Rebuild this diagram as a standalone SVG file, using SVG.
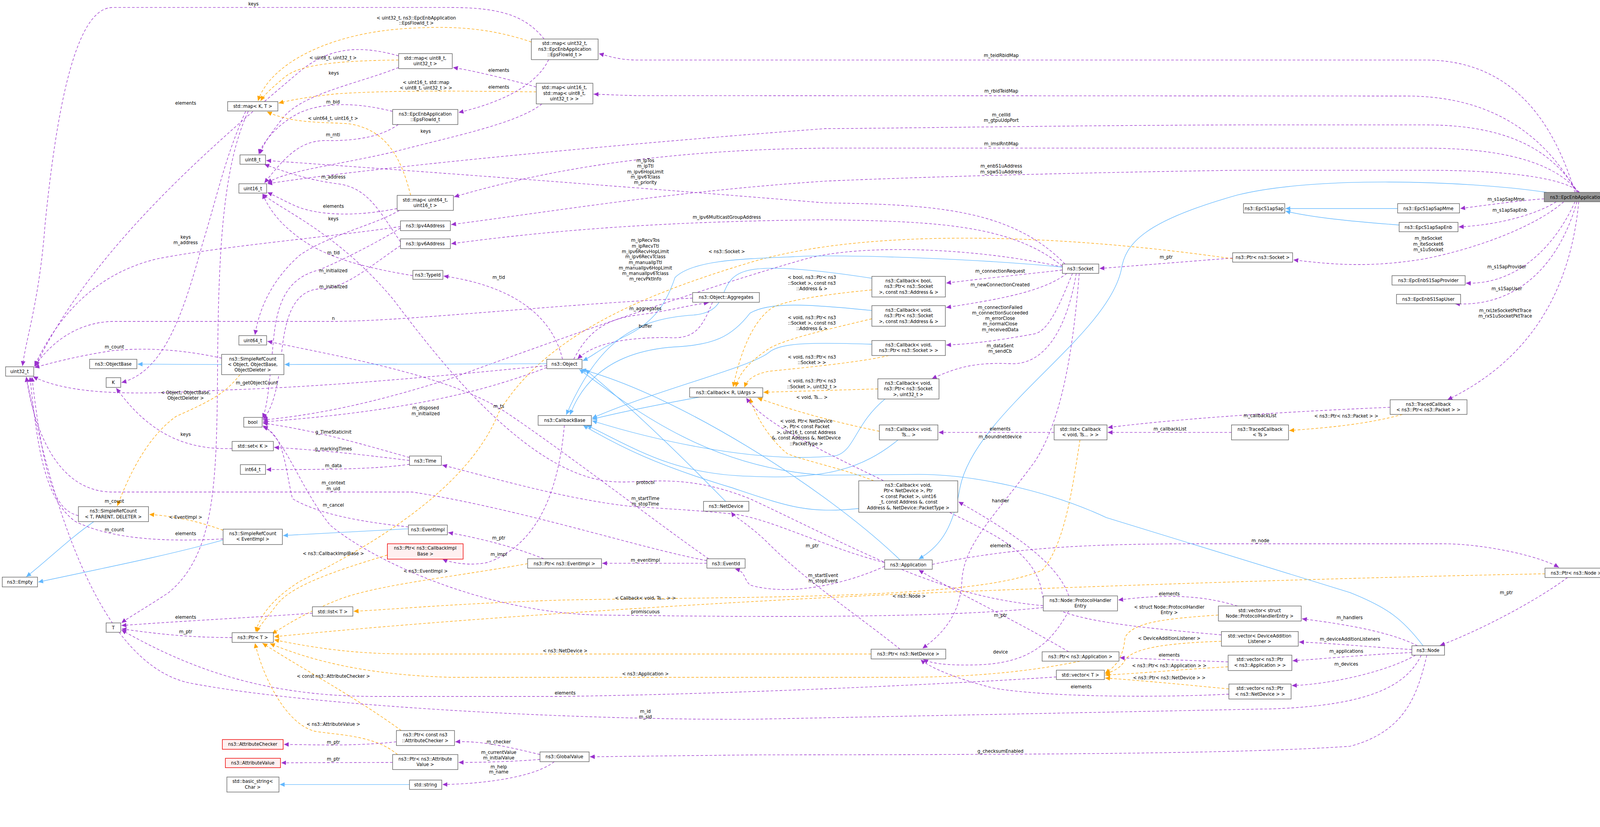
<svg xmlns="http://www.w3.org/2000/svg" width="4296" height="2117" viewBox="0 0 4296 2117">
<style>
text{font-family:"DejaVu Sans","Noto Sans",sans-serif;font-size:12px;fill:#000;text-anchor:middle}
.n rect{fill:#fff;stroke:#666;stroke-width:1.5}
.r rect{fill:#fff0f0;stroke:#e00;stroke-width:1.5}
.h rect{fill:#999;stroke:#666;stroke-width:1.5}
#edges path{fill:none;stroke-width:1.4}
.p{stroke:#9a32cd;stroke-dasharray:7,5;marker-end:url(#mp)}
.o{stroke:#ffa500;stroke-dasharray:7,5;marker-end:url(#mo)}
.b{stroke:#63b8ff;marker-end:url(#mb)}
</style>
<defs>
<marker id="mp" markerUnits="userSpaceOnUse" markerWidth="14" markerHeight="12" refX="13" refY="6" orient="auto"><path d="M0,0 L13,6 L0,12 z" fill="#9a32cd"/></marker>
<marker id="mo" markerUnits="userSpaceOnUse" markerWidth="14" markerHeight="12" refX="13" refY="6" orient="auto"><path d="M0,0 L13,6 L0,12 z" fill="#ffa500"/></marker>
<marker id="mb" markerUnits="userSpaceOnUse" markerWidth="14" markerHeight="12" refX="13" refY="6" orient="auto"><path d="M0,0 L13,6 L0,12 z" fill="#63b8ff"/></marker>
</defs>
<rect width="4296" height="2117" fill="#fff"/>
<g transform="scale(0.96)">
<g id="edges">
<path class="p" d="M1451,104 C1400,40 1330,20 1200,20 L300,20 C200,20 150,300 120,600 C105,800 70,900 60,976"/>
<path class="o" d="M1417,112 C1300,72 1200,70 1100,75 C880,85 720,170 688,269"/>
<path class="p" d="M1063,149 C960,120 880,125 800,190 C600,360 250,650 95,976"/>
<path class="p" d="M1063,180 C950,225 800,250 750,320 C715,365 700,390 693,411"/>
<path class="o" d="M1063,160 C900,162 800,172 760,205 C730,230 705,252 695,269"/>
<path class="o" d="M1430,245 C1250,243 1050,240 900,250 C820,258 770,268 743,275"/>
<path class="p" d="M1430,232 C1350,210 1270,190 1208,180"/>
<path class="p" d="M1463,159 C1430,230 1330,275 1223,300"/>
<path class="p" d="M1445,277 C1380,330 1200,365 1050,405 C900,440 760,455 713,488"/>
<path class="p" d="M1047,297 C960,275 870,270 800,300 C740,330 700,380 690,411"/>
<path class="p" d="M1062,332 C1010,370 930,375 880,375 C800,370 760,420 705,488"/>
<path class="o" d="M1095,521 C1070,420 1030,345 930,330 C860,325 780,330 712,298"/>
<path class="p" d="M1059,556 C950,578 850,575 790,550 C760,537 740,525 713,513"/>
<path class="p" d="M1065,561 C1000,600 880,625 800,680 C720,750 690,830 680,893"/>
<path class="p" d="M1068,604 C900,630 600,655 420,690 C250,730 150,850 92,976"/>
<path class="p" d="M655,297 C600,420 580,520 540,650 C490,830 440,990 324,1020"/>
<path class="p" d="M662,297 C590,450 582,700 580,1000 C578,1300 570,1480 450,1580 C390,1620 345,1645 324,1661"/>
<path class="p" d="M4200,513 C4150,350 4050,160 3800,160 L1700,160 C1650,160 1625,150 1597,143"/>
<path class="p" d="M4205,513 C4130,380 4000,256 3750,256 L1700,255 C1650,254 1615,252 1583,251"/>
<path class="p" d="M4208,513 C4150,420 4050,333 3800,333 L3300,333 C2800,335 2400,342 2200,343 C1700,380 1000,445 713,490"/>
<path class="p" d="M4210,513 C4160,450 4050,395 3800,395 L2200,395 C1700,400 1400,470 1211,525"/>
<path class="p" d="M4212,513 C4180,480 4050,454 3800,454 L3300,454 C2900,460 2500,470 2200,483 C1800,510 1500,560 1203,599"/>
<path class="p" d="M4118,530 C4050,535 3980,545 3894,556"/>
<path class="p" d="M4150,538 C4100,570 4000,600 3890,605"/>
<path class="p" d="M4170,538 C4100,600 3950,660 3800,690 C3650,715 3550,705 3449,693"/>
<path class="p" d="M4200,538 C4150,650 4050,760 3909,755"/>
<path class="p" d="M4205,538 C4160,700 4050,820 3880,810"/>
<path class="p" d="M4210,538 C4190,750 4100,950 3860,1066"/>
<path class="b" d="M4125,513 C3900,480 3500,470 3300,520 C3050,590 3000,650 2990,720 C2950,900 2600,1100 2560,1300 C2540,1420 2500,1460 2450,1491"/>
<path class="b" d="M3727,556 L3428,556"/>
<path class="b" d="M3731,600 C3600,590 3500,580 3428,563"/>
<path class="p" d="M3287,688 L2932,716"/>
<path class="o" d="M3287,690 C2800,620 2300,610 2000,700 C1700,790 1450,900 1330,1100 C1250,1300 1000,1450 800,1550 C720,1600 690,1650 682,1685"/>
<path class="p" d="M2833,710 C2700,600 2500,590 2200,586 C1800,590 1500,610 1203,650"/>
<path class="p" d="M2840,704 C2700,560 2500,545 2200,541 C1700,500 1100,455 710,428"/>
<path class="p" d="M2833,712 C2600,660 2300,650 2150,690 C1900,760 1500,900 1200,1010 C950,1090 800,1110 701,1120"/>
<path class="b" d="M2833,712 C2600,690 2300,680 2150,683 C2000,690 1850,690 1800,740 C1780,800 1750,860 1660,900 C1600,930 1580,950 1554,962"/>
<path class="p" d="M2833,720 C2700,735 2600,745 2523,755"/>
<path class="p" d="M2845,729 C2780,780 2650,800 2523,820"/>
<path class="p" d="M2860,729 C2830,800 2800,880 2760,890 C2650,910 2580,918 2523,920"/>
<path class="p" d="M2870,729 C2850,850 2800,970 2700,970 C2600,965 2550,980 2485,1010"/>
<path class="p" d="M2878,729 C2860,950 2830,1120 2760,1230 C2650,1380 2570,1450 2565,1550 C2560,1650 2500,1700 2460,1729"/>
<path class="b" d="M2325,742 C2150,715 2050,710 2000,720 C1900,740 1960,830 1850,840 C1700,850 1600,900 1510,1106"/>
<path class="b" d="M2325,828 C2150,810 2050,805 2000,835 C1950,900 1900,920 1800,925 C1650,935 1560,1000 1520,1106"/>
<path class="b" d="M2325,918 C2150,912 2080,915 2050,940 C2000,980 1750,1040 1579,1115"/>
<path class="b" d="M2360,1064 C2280,1130 2280,1200 2230,1215 C2000,1240 1700,1160 1579,1122"/>
<path class="b" d="M2395,1173 C2300,1250 2200,1280 2000,1270 C1800,1265 1700,1200 1565,1134"/>
<path class="b" d="M2290,1356 C2150,1370 2100,1350 1950,1300 C1750,1240 1650,1190 1555,1134"/>
<path class="b" d="M1865,1059 C1750,1080 1650,1100 1579,1118"/>
<path class="o" d="M2325,773 C2200,785 2100,800 2060,820 C2000,860 1970,960 1955,1032"/>
<path class="o" d="M2325,850 C2200,880 2090,905 2050,930 C1990,970 1970,1000 1962,1032"/>
<path class="o" d="M2370,948 C2300,965 2150,980 2050,990 C2000,1000 1990,1020 1985,1033"/>
<path class="o" d="M2341,1037 L2036,1046"/>
<path class="o" d="M2345,1150 C2200,1120 2100,1090 2020,1061"/>
<path class="o" d="M2330,1282 C2250,1250 2150,1230 2100,1210 C2050,1170 2010,1100 2000,1061"/>
<path class="p" d="M2811,1153 L2503,1153"/>
<path class="p" d="M3284,1153 L2954,1153"/>
<path class="p" d="M3707,1086 C3500,1095 3200,1110 2954,1140"/>
<path class="o" d="M3740,1105 C3650,1130 3550,1140 3438,1148"/>
<path class="o" d="M2880,1173 C2860,1300 2840,1450 2780,1520 C2600,1600 2000,1590 1500,1600 C1200,1610 1050,1625 943,1630"/>
<path class="p" d="M2850,1589 C2820,1500 2700,1420 2556,1338"/>
<path class="p" d="M2850,1629 C2800,1720 2740,1770 2600,1773 C2520,1775 2480,1768 2462,1758"/>
<path class="p" d="M2782,1620 C2500,1650 2000,1645 1600,1640 C1300,1635 1000,1500 880,1400 C800,1300 760,1170 701,1135"/>
<path class="p" d="M2782,1615 C2500,1590 2300,1470 2000,1330 C1800,1250 1700,1300 1600,1280 C1400,1240 1200,1000 1050,800 C900,620 750,560 700,517"/>
<path class="p" d="M2359,1510 C2250,1560 2100,1590 2000,1560 C1980,1540 1990,1525 1960,1517"/>
<path class="p" d="M2359,1500 C2200,1460 2050,1380 1950,1370 C1850,1360 1750,1355 1680,1350 C1500,1330 1300,1270 1179,1240"/>
<path class="p" d="M2486,1505 C2700,1460 2900,1450 3200,1450 L3850,1450 C3950,1450 4100,1480 4157,1513"/>
<path class="p" d="M4180,1540 C4100,1600 3950,1680 3840,1721"/>
<path class="p" d="M2850,1738 C2700,1650 2550,1580 2450,1520"/>
<path class="p" d="M2400,1731 C2300,1650 2150,1550 2050,1450 C2000,1400 1960,1380 1950,1365"/>
<path class="o" d="M4120,1530 C3600,1540 3000,1560 2500,1580 C2000,1600 1200,1650 731,1698"/>
<path class="o" d="M2323,1744 L1100,1744 C950,1744 850,1730 731,1706"/>
<path class="o" d="M2880,1763 C2750,1790 2600,1806 2400,1806 L1200,1806 C1000,1800 850,1770 720,1716"/>
<path class="o" d="M1070,1948 C950,1860 800,1780 700,1715"/>
<path class="o" d="M1060,2012 C1000,1960 900,1960 840,1950 C760,1930 700,1800 680,1715"/>
<path class="o" d="M1407,1503 C1200,1540 1000,1560 900,1600 C800,1640 760,1670 725,1690"/>
<path class="o" d="M1033,1480 C900,1520 780,1560 740,1610 C710,1650 690,1670 685,1686"/>
<path class="p" d="M3780,1722 C3700,1680 3550,1660 3472,1650"/>
<path class="p" d="M3765,1732 C3650,1725 3550,1715 3464,1712"/>
<path class="p" d="M3765,1740 C3650,1745 3550,1755 3447,1762"/>
<path class="p" d="M3775,1747 C3700,1790 3550,1825 3445,1828"/>
<path class="p" d="M3790,1747 C3750,1830 3650,1880 3400,1890 L2000,1918 C1500,1920 800,1880 500,1820 C250,1760 130,1300 70,1005"/>
<path class="p" d="M3805,1747 C3780,1850 3750,1950 3600,1990 C3300,2010 2800,2012 2000,2013 L1573,2018"/>
<path class="b" d="M3795,1722 C3740,1650 3700,1620 3600,1580 L2950,1380 C2800,1310 2600,1265 2450,1265 L2200,1267 C1900,1250 1700,1100 1545,985"/>
<path class="p" d="M3300,1616 C3200,1585 3100,1585 2982,1600"/>
<path class="o" d="M3249,1640 C3100,1650 3020,1660 3000,1700 C2995,1760 2970,1780 2947,1795"/>
<path class="p" d="M3257,1693 C3000,1670 2800,1650 2780,1590 C2770,1500 2700,1450 2600,1400 C2300,1250 2050,1150 1990,1061"/>
<path class="o" d="M3257,1710 C3100,1715 3020,1730 3000,1760 C2990,1780 2970,1790 2947,1797"/>
<path class="p" d="M3275,1765 L2986,1754"/>
<path class="o" d="M3275,1778 C3150,1785 3050,1795 2947,1800"/>
<path class="p" d="M3277,1851 C3100,1860 2800,1860 2650,1835 C2550,1810 2480,1780 2455,1759"/>
<path class="o" d="M3277,1837 C3150,1825 3050,1815 2947,1808"/>
<path class="p" d="M2817,1805 C2600,1820 2000,1850 1500,1857 L1000,1857 C700,1857 500,1780 324,1680"/>
<path class="p" d="M833,1635 C700,1645 500,1655 324,1668"/>
<path class="p" d="M619,1700 C500,1700 420,1690 324,1677"/>
<path class="p" d="M1440,2012 C1350,1990 1280,1975 1214,1978"/>
<path class="p" d="M1440,2025 C1380,2030 1300,2033 1223,2033"/>
<path class="p" d="M1478,2031 C1430,2070 1300,2090 1180,2092"/>
<path class="p" d="M1057,1978 C950,1990 850,1986 757,1985"/>
<path class="p" d="M1047,2033 L750,2034"/>
<path class="b" d="M1092,2092 L746,2092"/>
<path class="b" d="M595,1440 C450,1480 300,1510 102,1552"/>
<path class="b" d="M250,1391 C180,1440 120,1500 70,1538"/>
<path class="o" d="M595,1414 C530,1390 460,1375 398,1372"/>
<path class="b" d="M1089,1410 L755,1428"/>
<path class="p" d="M1089,1405 C950,1390 850,1370 780,1330 C760,1250 760,1160 701,1138"/>
<path class="p" d="M1450,1490 C1350,1450 1250,1430 1195,1420"/>
<path class="p" d="M1885,1502 L1606,1502"/>
<path class="p" d="M1885,1495 C1700,1460 1400,1360 1100,1312 L300,1312 C180,1312 100,1200 70,1005"/>
<path class="p" d="M1890,1490 C1800,1430 1500,1200 1350,1100 C1200,1000 900,950 713,910"/>
<path class="p" d="M1505,1134 C1490,1300 1440,1450 1300,1500 C1250,1510 1200,1500 1180,1491"/>
<path class="p" d="M1092,1220 C950,1180 850,1150 701,1128"/>
<path class="p" d="M1092,1228 C950,1210 850,1200 731,1193"/>
<path class="p" d="M1092,1238 C1000,1252 850,1252 710,1252"/>
<path class="p" d="M619,1196 C500,1200 400,1160 310,1035"/>
<path class="p" d="M1500,958 C1470,830 1350,760 1183,736"/>
<path class="p" d="M1530,958 C1570,880 1620,850 1700,840 C1780,830 1830,815 1890,807"/>
<path class="p" d="M1900,806 C1870,880 1850,905 1780,900 C1650,900 1580,920 1540,957"/>
<path class="p" d="M1847,795 C1500,810 1100,855 900,857 L300,857 C200,860 130,920 92,978"/>
<path class="p" d="M1458,980 C1300,1040 1100,1095 701,1125"/>
<path class="p" d="M1458,975 C1200,1000 900,1030 600,1040 C400,1050 200,1060 88,1004"/>
<path class="b" d="M1458,970 L759,972"/>
<path class="b" d="M591,972 L367,971"/>
<path class="p" d="M591,955 C500,935 400,925 300,935 C200,950 130,970 92,980"/>
<path class="o" d="M640,999 C600,1050 560,1070 470,1110 C400,1160 350,1250 313,1349"/>
<path class="p" d="M209,1375 C150,1360 120,1300 85,1005"/>
<path class="p" d="M595,1437 C450,1445 300,1440 200,1390 C120,1330 100,1200 80,1005"/>
<path class="p" d="M1101,735 C950,710 850,680 780,620 C730,580 710,540 700,517"/>
<path class="p" d="M1068,608 C1000,650 900,700 850,720 C770,740 740,800 730,900 C720,1000 715,1080 700,1115"/>
<path class="p" d="M1068,655 C1000,700 920,770 860,770 C780,770 760,850 750,950 C740,1050 720,1100 701,1118"/>
<path class="p" d="M1068,645 C1010,560 980,500 900,490 C820,480 750,455 705,438"/>
<path class="b" d="M1935,1337 C1850,1250 1700,1100 1560,985"/>
<path class="b" d="M2400,1493 C2200,1300 1800,1050 1550,985"/>
</g>
<g id="labels">
<text x="676" y="15">keys</text>
<text x="1110" y="52">&lt; uint32_t, ns3::EpcEnbApplication</text><text x="1110" y="66">::EpsFlowId_t &gt;</text>
<text x="495" y="279">elements</text>
<text x="890" y="199">keys</text>
<text x="888" y="158">&lt; uint8_t, uint32_t &gt;</text>
<text x="1136" y="224">&lt; uint16_t, std::map</text><text x="1136" y="239">&lt; uint8_t, uint32_t &gt; &gt;</text>
<text x="1330" y="192">elements</text>
<text x="1330" y="236">elements</text>
<text x="1135" y="354">keys</text>
<text x="888" y="276">m_bid</text>
<text x="888" y="364">m_rnti</text>
<text x="888" y="320">&lt; uint64_t, uint16_t &gt;</text>
<text x="889" y="554">elements</text>
<text x="889" y="587">keys</text>
<text x="495" y="651">m_address</text>
<text x="495" y="636">keys</text>
<text x="889" y="476">m_address</text>
<text x="889" y="678">m_tid</text>
<text x="889" y="726">m_initialized</text>
<text x="889" y="769">m_initialized</text>
<text x="2670" y="152">m_teidRbidMap</text>
<text x="2670" y="247">m_rbidTeidMap</text>
<text x="2670" y="310">m_cellId</text><text x="2670" y="325">m_gtpuUdpPort</text>
<text x="2670" y="387">m_imsiRntiMap</text>
<text x="2670" y="447">m_enbS1uAddress</text><text x="2670" y="462">m_sgwS1uAddress</text>
<text x="4016" y="535">m_s1apSapMme</text>
<text x="4026" y="565">m_s1apSapEnb</text>
<text x="3809" y="640">m_lteSocket</text><text x="3809" y="655">m_lteSocket6</text><text x="3809" y="670">m_s1uSocket</text>
<text x="4018" y="716">m_s1SapProvider</text>
<text x="4018" y="774">m_s1SapUser</text>
<text x="4014" y="832">m_rxLteSocketPktTrace</text><text x="4014" y="847">m_rxS1uSocketPktTrace</text>
<text x="3110" y="690">m_ptr</text>
<text x="1938" y="675">&lt; ns3::Socket &gt;</text>
<text x="1938" y="583">m_ipv6MulticastGroupAddress</text>
<text x="1721" y="432">m_ipTos</text><text x="1721" y="447">m_ipTtl</text><text x="1721" y="462">m_ipv6HopLimit</text><text x="1721" y="476">m_ipv6Tclass</text><text x="1721" y="491">m_priority</text>
<text x="1721" y="645">m_ipRecvTos</text><text x="1721" y="660">m_ipRecvTtl</text><text x="1721" y="675">m_ipv6RecvHopLimit</text><text x="1721" y="689">m_ipv6RecvTclass</text><text x="1721" y="704">m_manualIpTtl</text><text x="1721" y="719">m_manualIpv6HopLimit</text><text x="1721" y="733">m_manualIpv6Tclass</text><text x="1721" y="748">m_recvPktInfo</text>
<text x="2667" y="727">m_connectionRequest</text>
<text x="2667" y="764">m_newConnectionCreated</text>
<text x="2667" y="824">m_connectionFailed</text><text x="2667" y="839">m_connectionSucceeded</text><text x="2667" y="853">m_errorClose</text><text x="2667" y="868">m_normalClose</text><text x="2667" y="883">m_receivedData</text>
<text x="2667" y="926">m_dataSent</text><text x="2667" y="941">m_sendCb</text>
<text x="2667" y="1169">m_boundnetdevice</text>
<text x="2165" y="744">&lt; bool, ns3::Ptr&lt; ns3</text><text x="2165" y="759">::Socket &gt;, const ns3</text><text x="2165" y="774">::Address &amp; &gt;</text>
<text x="2165" y="851">&lt; void, ns3::Ptr&lt; ns3</text><text x="2165" y="866">::Socket &gt;, const ns3</text><text x="2165" y="880">::Address &amp; &gt;</text>
<text x="2165" y="956">&lt; void, ns3::Ptr&lt; ns3</text><text x="2165" y="971">::Socket &gt; &gt;</text>
<text x="2165" y="1020">&lt; void, ns3::Ptr&lt; ns3</text><text x="2165" y="1035">::Socket &gt;, uint32_t &gt;</text>
<text x="2165" y="1064">&lt; void, Ts... &gt;</text>
<text x="2150" y="1127">&lt; void, Ptr&lt; NetDevice</text><text x="2150" y="1142">&gt;, Ptr&lt; const Packet</text><text x="2150" y="1157">&gt;, uint16_t, const Address</text><text x="2150" y="1172">&amp;, const Address &amp;, NetDevice</text><text x="2150" y="1187">::PacketType &gt;</text>
<text x="2667" y="1148">elements</text>
<text x="3120" y="1148">m_callbackList</text>
<text x="3360" y="1112">m_callbackList</text>
<text x="3590" y="1114">&lt; ns3::Ptr&lt; ns3::Packet &gt; &gt;</text>
<text x="1721" y="1599">&lt; Callback&lt; void, Ts... &gt; &gt;</text>
<text x="2668" y="1340">handler</text>
<text x="2668" y="1743">device</text>
<text x="1721" y="1635">promiscuous</text>
<text x="1721" y="1291">protocol</text>
<text x="2195" y="1539">m_startEvent</text><text x="2195" y="1553">m_stopEvent</text>
<text x="1721" y="1333">m_startTime</text><text x="1721" y="1348">m_stopTime</text>
<text x="3361" y="1446">m_node</text>
<text x="4017" y="1584">m_ptr</text>
<text x="2668" y="1645">m_ptr</text>
<text x="2166" y="1459">m_ptr</text>
<text x="2424" y="1594">&lt; ns3::Node &gt;</text>
<text x="1507" y="1740">&lt; ns3::NetDevice &gt;</text>
<text x="1721" y="1801">&lt; ns3::Application &gt;</text>
<text x="889" y="1807">&lt; const ns3::AttributeChecker &gt;</text>
<text x="889" y="1935">&lt; ns3::AttributeValue &gt;</text>
<text x="1135" y="1527">&lt; ns3::EventImpl &gt;</text>
<text x="889" y="1480">&lt; ns3::CallbackImplBase &gt;</text>
<text x="3599" y="1651">m_handlers</text>
<text x="3600" y="1708">m_deviceAdditionListeners</text>
<text x="3590" y="1741">m_applications</text>
<text x="3590" y="1775">m_devices</text>
<text x="1721" y="1901">m_id</text><text x="1721" y="1916">m_sid</text>
<text x="2668" y="2007">g_checksumEnabled</text>
<text x="3118" y="1587">elements</text>
<text x="3118" y="1623">&lt; struct Node::ProtocolHandler</text><text x="3118" y="1637">Entry &gt;</text>
<text x="2668" y="1459">elements</text>
<text x="3118" y="1706">&lt; DeviceAdditionListener &gt;</text>
<text x="3118" y="1751">elements</text>
<text x="3118" y="1779">&lt; ns3::Ptr&lt; ns3::Application &gt; &gt;</text>
<text x="2883" y="1835">elements</text>
<text x="3118" y="1811">&lt; ns3::Ptr&lt; ns3::NetDevice &gt; &gt;</text>
<text x="1507" y="1852">elements</text>
<text x="495" y="1650">elements</text>
<text x="495" y="1689">m_ptr</text>
<text x="1330" y="1982">m_checker</text>
<text x="1330" y="2010">m_currentValue</text><text x="1330" y="2025">m_initialValue</text>
<text x="1330" y="2049">m_help</text><text x="1330" y="2063">m_name</text>
<text x="889" y="1983">m_ptr</text>
<text x="889" y="2028">m_ptr</text>
<text x="495" y="1383">&lt; EventImpl &gt;</text>
<text x="889" y="1351">m_cancel</text>
<text x="1330" y="1439">m_ptr</text>
<text x="1721" y="1498">m_eventImpl</text>
<text x="889" y="1292">m_context</text><text x="889" y="1307">m_uid</text>
<text x="1330" y="1087">m_ts</text>
<text x="1330" y="1482">m_impl</text>
<text x="889" y="1156">g_TimeStaticInit</text>
<text x="889" y="1201">g_markingTimes</text>
<text x="889" y="1246">m_data</text>
<text x="495" y="1162">keys</text>
<text x="1330" y="744">m_tid</text>
<text x="1721" y="827">m_aggregates</text>
<text x="1721" y="874">buffer</text>
<text x="889" y="853">n</text>
<text x="1135" y="1092">m_disposed</text><text x="1135" y="1107">m_initialized</text>
<text x="685" y="1025">m_getObjectCount</text>
<text x="305" y="929">m_count</text>
<text x="495" y="1051">&lt; Object, ObjectBase,</text><text x="495" y="1066">ObjectDeleter &gt;</text>
<text x="305" y="1341">m_count</text>
<text x="305" y="1417">m_count</text>
<text x="495" y="1427">elements</text>
</g>
<g id="n_app" class="h"><rect x="4118" y="513" width="173" height="25"/><text x="4204" y="530">ns3::EpcEnbApplication</text></g>
<g id="n_mapu32" class="n"><rect x="1417" y="104" width="178" height="55"/><text x="1506" y="120">std::map&lt; uint32_t,</text><text x="1506" y="135">ns3::EpcEnbApplication</text><text x="1506" y="150">::EpsFlowId_t &gt;</text></g>
<g id="n_mapu16" class="n"><rect x="1430" y="222" width="151" height="55"/><text x="1505" y="238">std::map&lt; uint16_t,</text><text x="1505" y="253">std::map&lt; uint8_t,</text><text x="1505" y="268">uint32_t &gt; &gt;</text></g>
<g id="n_mapu8" class="n"><rect x="1063" y="143" width="143" height="40"/><text x="1134" y="159">std::map&lt; uint8_t,</text><text x="1134" y="174">uint32_t &gt;</text></g>
<g id="n_epsflow" class="n"><rect x="1047" y="292" width="174" height="40"/><text x="1134" y="308">ns3::EpcEnbApplication</text><text x="1134" y="323">::EpsFlowId_t</text></g>
<g id="n_mapkt" class="n"><rect x="607" y="271" width="134" height="25"/><text x="674" y="288">std::map&lt; K, T &gt;</text></g>
<g id="n_uint8" class="n"><rect x="640" y="413" width="68" height="25"/><text x="674" y="430">uint8_t</text></g>
<g id="n_uint16" class="n"><rect x="637" y="490" width="74" height="25"/><text x="674" y="507">uint16_t</text></g>
<g id="n_mapu64" class="n"><rect x="1059" y="521" width="150" height="40"/><text x="1134" y="537">std::map&lt; uint64_t,</text><text x="1134" y="552">uint16_t &gt;</text></g>
<g id="n_ipv4" class="n"><rect x="1068" y="589" width="133" height="26"/><text x="1134" y="606">ns3::Ipv4Address</text></g>
<g id="n_ipv6" class="n"><rect x="1068" y="637" width="133" height="26"/><text x="1134" y="654">ns3::Ipv6Address</text></g>
<g id="n_typeid" class="n"><rect x="1101" y="721" width="80" height="24"/><text x="1141" y="737">ns3::TypeId</text></g>
<g id="n_aggr" class="n"><rect x="1847" y="780" width="178" height="26"/><text x="1936" y="797">ns3::Object::Aggregates</text></g>
<g id="n_object" class="n"><rect x="1458" y="958" width="94" height="25"/><text x="1505" y="975">ns3::Object</text></g>
<g id="n_uint64" class="n"><rect x="637" y="895" width="74" height="25"/><text x="674" y="912">uint64_t</text></g>
<g id="n_srcobj" class="n"><rect x="591" y="945" width="166" height="54"/><text x="674" y="961">ns3::SimpleRefCount</text><text x="674" y="976">&lt; Object, ObjectBase,</text><text x="674" y="991">ObjectDeleter &gt;</text></g>
<g id="n_objbase" class="n"><rect x="239" y="958" width="126" height="25"/><text x="302" y="975">ns3::ObjectBase</text></g>
<g id="n_uint32" class="n"><rect x="15" y="978" width="75" height="25"/><text x="52" y="995">uint32_t</text></g>
<g id="n_K" class="n"><rect x="283" y="1007" width="39" height="26"/><text x="302" y="1024">K</text></g>
<g id="n_bool" class="n"><rect x="650" y="1113" width="49" height="26"/><text x="674" y="1130">bool</text></g>
<g id="n_setk" class="n"><rect x="619" y="1177" width="110" height="25"/><text x="674" y="1194">std::set&lt; K &gt;</text></g>
<g id="n_int64" class="n"><rect x="641" y="1239" width="67" height="26"/><text x="674" y="1256">int64_t</text></g>
<g id="n_srct" class="n"><rect x="209" y="1351" width="187" height="40"/><text x="302" y="1367">ns3::SimpleRefCount</text><text x="302" y="1382">&lt; T, PARENT, DELETER &gt;</text></g>
<g id="n_srcev" class="n"><rect x="595" y="1411" width="158" height="41"/><text x="674" y="1427">ns3::SimpleRefCount</text><text x="674" y="1442">&lt; EventImpl &gt;</text></g>
<g id="n_empty" class="n"><rect x="6" y="1539" width="94" height="26"/><text x="53" y="1556">ns3::Empty</text></g>
<g id="n_T" class="n"><rect x="283" y="1661" width="39" height="25"/><text x="302" y="1678">T</text></g>
<g id="n_ptrT" class="n"><rect x="619" y="1687" width="110" height="26"/><text x="674" y="1704">ns3::Ptr&lt; T &gt;</text></g>
<g id="n_listT" class="n"><rect x="833" y="1618" width="108" height="25"/><text x="887" y="1635">std::list&lt; T &gt;</text></g>
<g id="n_attrchk" class="r"><rect x="593" y="1972" width="162" height="26"/><text x="674" y="1989">ns3::AttributeChecker</text></g>
<g id="n_attrval" class="r"><rect x="601" y="2022" width="147" height="25"/><text x="674" y="2039">ns3::AttributeValue</text></g>
<g id="n_basicstr" class="n"><rect x="605" y="2072" width="139" height="40"/><text x="674" y="2088">std::basic_string&lt;</text><text x="674" y="2103">Char &gt;</text></g>
<g id="n_ptrchk" class="n"><rect x="1057" y="1948" width="155" height="40"/><text x="1134" y="1964">ns3::Ptr&lt; const ns3</text><text x="1134" y="1979">::AttributeChecker &gt;</text></g>
<g id="n_ptrval" class="n"><rect x="1047" y="2012" width="174" height="40"/><text x="1134" y="2028">ns3::Ptr&lt; ns3::Attribute</text><text x="1134" y="2043">Value &gt;</text></g>
<g id="n_string" class="n"><rect x="1092" y="2080" width="86" height="25"/><text x="1135" y="2097">std::string</text></g>
<g id="n_global" class="n"><rect x="1440" y="2005" width="131" height="26"/><text x="1505" y="2022">ns3::GlobalValue</text></g>
<g id="n_cbbase" class="n"><rect x="1435" y="1108" width="142" height="26"/><text x="1506" y="1125">ns3::CallbackBase</text></g>
<g id="n_cbR" class="n"><rect x="1839" y="1034" width="195" height="25"/><text x="1936" y="1051">ns3::Callback&lt; R, UArgs &gt;</text></g>
<g id="n_time" class="n"><rect x="1092" y="1216" width="85" height="25"/><text x="1134" y="1233">ns3::Time</text></g>
<g id="n_eventimpl" class="n"><rect x="1089" y="1400" width="104" height="26"/><text x="1141" y="1417">ns3::EventImpl</text></g>
<g id="n_ptrcbimpl" class="r"><rect x="1033" y="1450" width="202" height="41"/><text x="1134" y="1466">ns3::Ptr&lt; ns3::CallbackImpl</text><text x="1134" y="1481">Base &gt;</text></g>
<g id="n_ptrev" class="n"><rect x="1407" y="1490" width="197" height="25"/><text x="1505" y="1507">ns3::Ptr&lt; ns3::EventImpl &gt;</text></g>
<g id="n_eventid" class="n"><rect x="1885" y="1490" width="102" height="25"/><text x="1936" y="1507">ns3::EventId</text></g>
<g id="n_netdev" class="n"><rect x="1876" y="1337" width="121" height="26"/><text x="1936" y="1354">ns3::NetDevice</text></g>
<g id="n_socket" class="n"><rect x="2833" y="704" width="97" height="25"/><text x="2881" y="721">ns3::Socket</text></g>
<g id="n_cbbool" class="n"><rect x="2325" y="737" width="196" height="55"/><text x="2423" y="753">ns3::Callback&lt; bool,</text><text x="2423" y="768">ns3::Ptr&lt; ns3::Socket</text><text x="2423" y="783">&gt;, const ns3::Address &amp; &gt;</text></g>
<g id="n_cbvaddr" class="n"><rect x="2325" y="815" width="196" height="55"/><text x="2423" y="831">ns3::Callback&lt; void,</text><text x="2423" y="846">ns3::Ptr&lt; ns3::Socket</text><text x="2423" y="861">&gt;, const ns3::Address &amp; &gt;</text></g>
<g id="n_cbvsock" class="n"><rect x="2325" y="908" width="196" height="40"/><text x="2423" y="924">ns3::Callback&lt; void,</text><text x="2423" y="939">ns3::Ptr&lt; ns3::Socket &gt; &gt;</text></g>
<g id="n_cbvu32" class="n"><rect x="2341" y="1010" width="163" height="54"/><text x="2422" y="1026">ns3::Callback&lt; void,</text><text x="2422" y="1041">ns3::Ptr&lt; ns3::Socket</text><text x="2422" y="1056">&gt;, uint32_t &gt;</text></g>
<g id="n_cbvts" class="n"><rect x="2345" y="1133" width="156" height="40"/><text x="2423" y="1149">ns3::Callback&lt; void,</text><text x="2423" y="1164">Ts... &gt;</text></g>
<g id="n_listcb" class="n"><rect x="2811" y="1133" width="141" height="40"/><text x="2881" y="1149">std::list&lt; Callback</text><text x="2881" y="1164">&lt; void, Ts... &gt; &gt;</text></g>
<g id="n_cbnd" class="n"><rect x="2290" y="1282" width="264" height="84"/><text x="2422" y="1298">ns3::Callback&lt; void,</text><text x="2422" y="1313">Ptr&lt; NetDevice &gt;, Ptr</text><text x="2422" y="1328">&lt; const Packet &gt;, uint16</text><text x="2422" y="1343">_t, const Address &amp;, const</text><text x="2422" y="1358">Address &amp;, NetDevice::PacketType &gt;</text></g>
<g id="n_tcts" class="n"><rect x="3284" y="1133" width="152" height="40"/><text x="3360" y="1149">ns3::TracedCallback</text><text x="3360" y="1164">&lt; Ts &gt;</text></g>
<g id="n_tcpkt" class="n"><rect x="3707" y="1066" width="205" height="39"/><text x="3809" y="1082">ns3::TracedCallback</text><text x="3809" y="1097">&lt; ns3::Ptr&lt; ns3::Packet &gt; &gt;</text></g>
<g id="n_application" class="n"><rect x="2359" y="1493" width="127" height="25"/><text x="2422" y="1510">ns3::Application</text></g>
<g id="n_ptrnd" class="n"><rect x="2323" y="1731" width="199" height="26"/><text x="2422" y="1748">ns3::Ptr&lt; ns3::NetDevice &gt;</text></g>
<g id="n_phe" class="n"><rect x="2782" y="1589" width="198" height="40"/><text x="2881" y="1605">ns3::Node::ProtocolHandler</text><text x="2881" y="1620">Entry</text></g>
<g id="n_ptrapp" class="n"><rect x="2779" y="1738" width="205" height="25"/><text x="2881" y="1755">ns3::Ptr&lt; ns3::Application &gt;</text></g>
<g id="n_vecT" class="n"><rect x="2817" y="1787" width="128" height="25"/><text x="2881" y="1804">std::vector&lt; T &gt;</text></g>
<g id="n_vecphe" class="n"><rect x="3249" y="1616" width="221" height="40"/><text x="3359" y="1632">std::vector&lt; struct</text><text x="3359" y="1647">Node::ProtocolHandlerEntry &gt;</text></g>
<g id="n_vecdal" class="n"><rect x="3257" y="1684" width="205" height="39"/><text x="3359" y="1700">std::vector&lt; DeviceAddition</text><text x="3359" y="1715">Listener &gt;</text></g>
<g id="n_vecapp" class="n"><rect x="3275" y="1747" width="170" height="41"/><text x="3360" y="1763">std::vector&lt; ns3::Ptr</text><text x="3360" y="1778">&lt; ns3::Application &gt; &gt;</text></g>
<g id="n_vecnd" class="n"><rect x="3277" y="1824" width="166" height="40"/><text x="3360" y="1840">std::vector&lt; ns3::Ptr</text><text x="3360" y="1855">&lt; ns3::NetDevice &gt; &gt;</text></g>
<g id="n_ptrnode" class="n"><rect x="4120" y="1515" width="167" height="25"/><text x="4203" y="1532">ns3::Ptr&lt; ns3::Node &gt;</text></g>
<g id="n_node" class="n"><rect x="3765" y="1722" width="87" height="25"/><text x="3808" y="1739">ns3::Node</text></g>
<g id="n_s1apsap" class="n"><rect x="3316" y="543" width="110" height="25"/><text x="3371" y="560">ns3::EpcS1apSap</text></g>
<g id="n_s1mme" class="n"><rect x="3727" y="543" width="165" height="25"/><text x="3809" y="560">ns3::EpcS1apSapMme</text></g>
<g id="n_s1enb" class="n"><rect x="3731" y="593" width="157" height="25"/><text x="3809" y="610">ns3::EpcS1apSapEnb</text></g>
<g id="n_ptrsock" class="n"><rect x="3287" y="674" width="160" height="25"/><text x="3367" y="691">ns3::Ptr&lt; ns3::Socket &gt;</text></g>
<g id="n_s1prov" class="n"><rect x="3712" y="735" width="195" height="25"/><text x="3809" y="752">ns3::EpcEnbS1SapProvider</text></g>
<g id="n_s1user" class="n"><rect x="3724" y="785" width="171" height="25"/><text x="3809" y="802">ns3::EpcEnbS1SapUser</text></g>
</g>
</svg>
